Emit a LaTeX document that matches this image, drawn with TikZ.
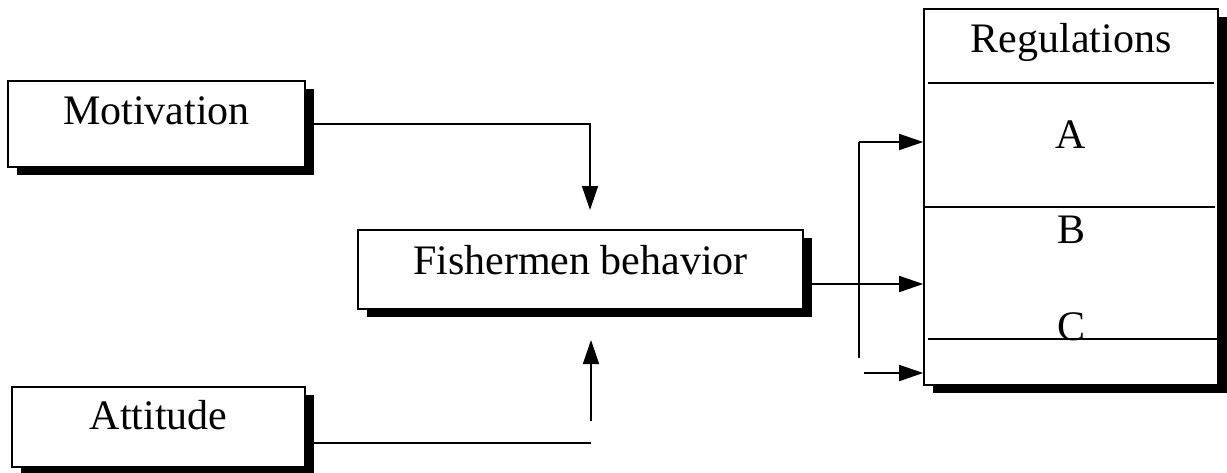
\documentclass[tikz,border=0pt]{standalone}
\usepackage{fontspec}
\setmainfont{Liberation Serif}
\usetikzlibrary{arrows.meta,shadows}
\begin{document}
\begin{tikzpicture}[x=1pt,y=-1pt,
  boxstyle/.style={draw=black,line width=1.6pt,fill=white,inner sep=0pt,
    drop shadow={shadow xshift=9pt,shadow yshift=-8pt,opacity=1,fill=black}},
  labeltext/.style={anchor=base,inner sep=0pt,font=\fontsize{42}{50}\selectfont},
  conn/.style={line width=1.6pt},
  arr/.style={conn,-{Triangle[length=24pt,width=16pt]}}]
\useasboundingbox (0,0) rectangle (1227,472);

% boxes
\node[boxstyle,minimum width=297pt,minimum height=86pt] (mot) at (156.5,124) {};
\node[boxstyle,minimum width=293pt,minimum height=80pt] (att) at (158.5,427) {};
\node[boxstyle,minimum width=445pt,minimum height=79pt] (fish) at (580.5,269.5) {};
\node[boxstyle,minimum width=294pt,minimum height=376pt] (reg) at (1071,197) {};

% box texts
\node[labeltext] (tmot) at (156.5,124) {Motivation};
\node[labeltext] (tatt) at (158.5,429) {Attitude};
\node[labeltext] (tfish) at (580.5,274) {Fishermen behavior};
\node[labeltext] (treg) at (1071,52) {Regulations};
\node[labeltext] (ta) at (1071,148) {A};
\node[labeltext] (tb) at (1071,243) {B};
\node[labeltext] (tc) at (1071,340) {C};

% compartment lines of the regulations box
\coordinate (d1l) at (928,83);  \coordinate (d1r) at (1214,83);
\coordinate (d2l) at (924,207); \coordinate (d2r) at (1215,207);
\coordinate (d3l) at (928,339); \coordinate (d3r) at (1217,339);
\draw[conn] (d1l) -- (d1r);
\draw[conn] (d2l) -- (d2r);
\draw[conn] (d3l) -- (d3r);

% motivation -> behaviour
\coordinate (mtip) at (590,210);
\draw[arr] (mot.east) -| (mtip);

% attitude -> behaviour
\coordinate (a1) at (591,443);
\coordinate (a2) at (591,421);
\coordinate (atip) at (591,340);
\draw[conn] (att.east |- a1) -- (a1);
\draw[arr] (a2) -- (atip);

% behaviour -> regulations
\coordinate (r1) at (859,142);
\coordinate (r1b) at (859,358);
\coordinate (r2) at (0,284);
\coordinate (r3) at (864,373);
\draw[arr] (fish.east |- r2) -- (reg.west |- r2);
\draw[conn] (r1b) -- (r1);
\draw[arr] (r1) -- (reg.west |- r1);
\draw[arr] (r3) -- (reg.west |- r3);
\end{tikzpicture}
\end{document}
